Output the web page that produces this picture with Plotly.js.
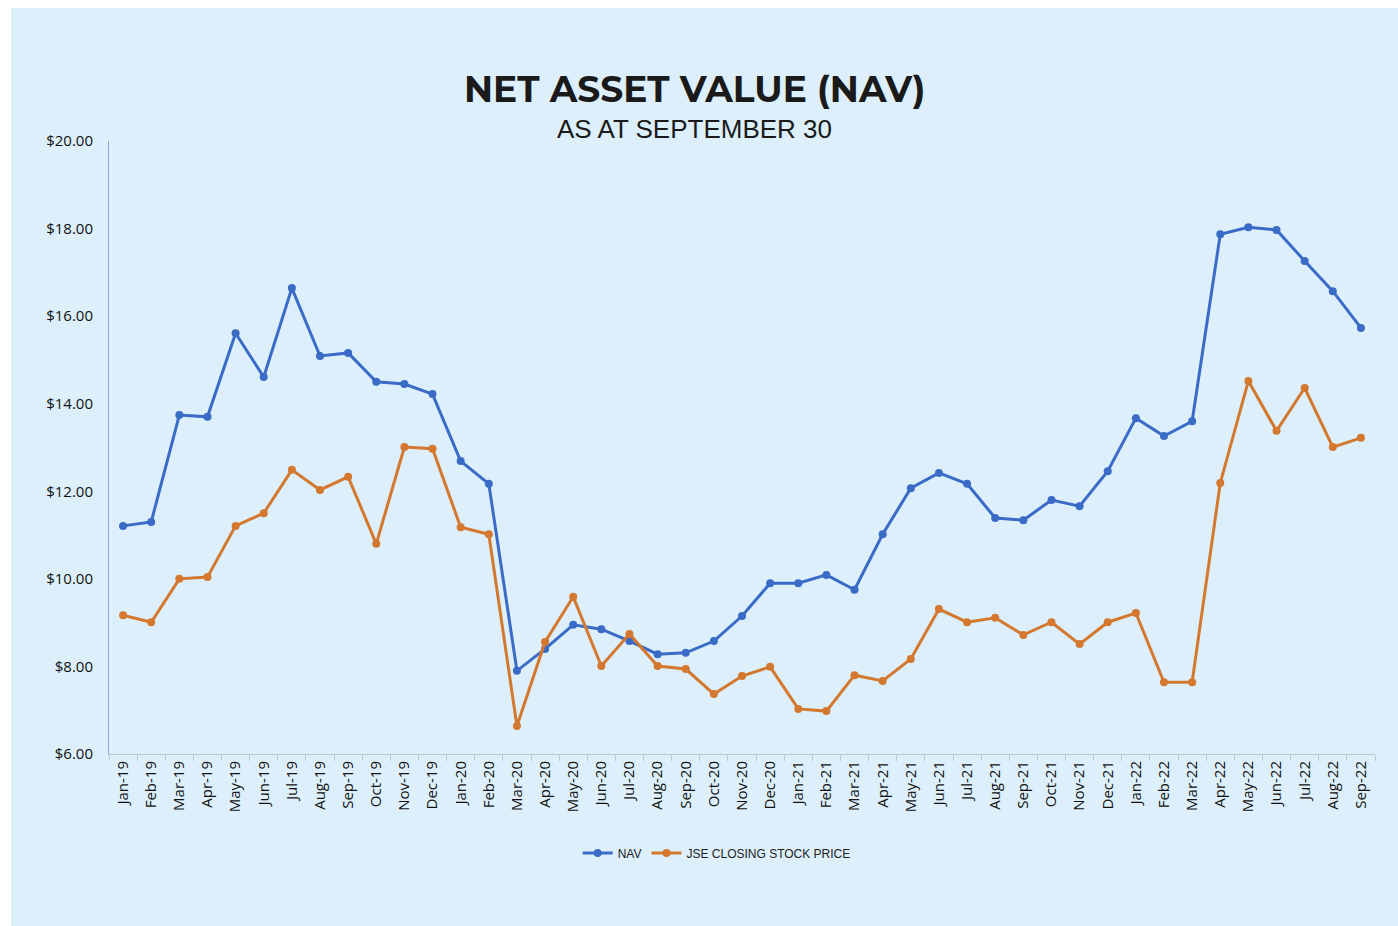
<!DOCTYPE html>
<html>
<head>
<meta charset="utf-8">
<script src="https://cdn.plot.ly/plotly-3.0.1.min.js"></script>
<style>
html,body{margin:0;padding:0;background:#ffffff;}
#chart{position:absolute;left:11px;top:8px;width:1387px;height:918px;}
</style>
</head>
<body>
<div id="chart"></div>
<script>
const months = ["Jan-19","Feb-19","Mar-19","Apr-19","May-19","Jun-19","Jul-19","Aug-19","Sep-19","Oct-19","Nov-19","Dec-19",
"Jan-20","Feb-20","Mar-20","Apr-20","May-20","Jun-20","Jul-20","Aug-20","Sep-20","Oct-20","Nov-20","Dec-20",
"Jan-21","Feb-21","Mar-21","Apr-21","May-21","Jun-21","Jul-21","Aug-21","Sep-21","Oct-21","Nov-21","Dec-21",
"Jan-22","Feb-22","Mar-22","Apr-22","May-22","Jun-22","Jul-22","Aug-22","Sep-22"];

const navValues = [11.21,11.30,13.74,13.70,15.61,14.61,16.64,15.09,15.16,14.50,14.45,14.22,
12.69,12.17,7.90,8.40,8.95,8.85,8.58,8.28,8.31,8.58,9.15,9.90,
9.90,10.09,9.75,11.02,12.07,12.42,12.17,11.39,11.34,11.80,11.66,12.46,
13.67,13.26,13.60,17.87,18.03,17.97,17.26,16.57,15.73];

const jseValues = [9.17,9.01,10.00,10.04,11.21,11.50,12.49,12.03,12.33,10.80,13.01,12.97,
11.18,11.02,6.64,8.56,9.59,8.01,8.74,8.01,7.94,7.37,7.78,7.99,
7.03,6.98,7.80,7.67,8.17,9.31,9.01,9.11,8.72,9.01,8.51,9.01,
9.22,7.64,7.64,12.19,14.52,13.38,14.36,13.01,13.22];

const seriesNames = ["NAV","JSE CLOSING STOCK PRICE"];
const titleText = "NET ASSET VALUE (NAV)";
const subtitleText = "AS AT SEPTEMBER 30";

const traces = [
  {x: months, y: navValues, name: seriesNames[0], type: "scatter", mode: "lines+markers",
   line: {color: "#3A6BC6", width: 3}, marker: {color: "#3A6BC6", size: 8}},
  {x: months, y: jseValues, name: seriesNames[1], type: "scatter", mode: "lines+markers",
   line: {color: "#D4782F", width: 3}, marker: {color: "#D4782F", size: 8}}
];

const layout = {
  width: 1387, height: 918,
  paper_bgcolor: "#DCEFFB", plot_bgcolor: "#DCEFFB",
  margin: {l: 98, r: 23, t: 133, b: 172},
  showlegend: true,
  legend: {orientation: "h", x: 0.48, xanchor: "center", y: -0.138, yanchor: "top",
           font: {family: "Liberation Sans, Arial, sans-serif", size: 12, color: "#222"},
           bgcolor: "rgba(0,0,0,0)"},
  xaxis: {type: "category", range: [-0.5, 44.5], showgrid: false, zeroline: false,
          showline: true, linecolor: "#BFC8D0", linewidth: 1,
          ticks: "outside", tickson: "boundaries", ticklen: 6, tickcolor: "#BFC8D0",
          tickangle: -90, tickfont: {family: "Open Sans, sans-serif", size: 15, color: "#111"}},
  yaxis: {range: [6, 20], dtick: 2, tick0: 6, tickprefix: "$", tickformat: ".2f",
          showgrid: false, zeroline: false, showline: true, linecolor: "#8FA9D6", linewidth: 1,
          ticks: "", ticklabelstandoff: 12,
          tickfont: {family: "Open Sans, sans-serif", size: 15, color: "#111"}},
  annotations: [
    {text: "<b>" + titleText + "</b>", xref: "paper", yref: "paper", x: 0.4626, y: 1.0, yshift: 52,
     xanchor: "center", yanchor: "middle", showarrow: false,
     font: {family: "Montserrat, Lato, Open Sans, sans-serif", size: 36, color: "#1a1a1a"}},
    {text: subtitleText, xref: "paper", yref: "paper", x: 0.4626, y: 1.0, yshift: 12,
     xanchor: "center", yanchor: "middle", showarrow: false,
     font: {family: "Liberation Sans, Arial, sans-serif", size: 26, color: "#1a1a1a"}}
  ]
};

Plotly.newPlot("chart", traces, layout, {displayModeBar: false});
</script>
</body>
</html>
